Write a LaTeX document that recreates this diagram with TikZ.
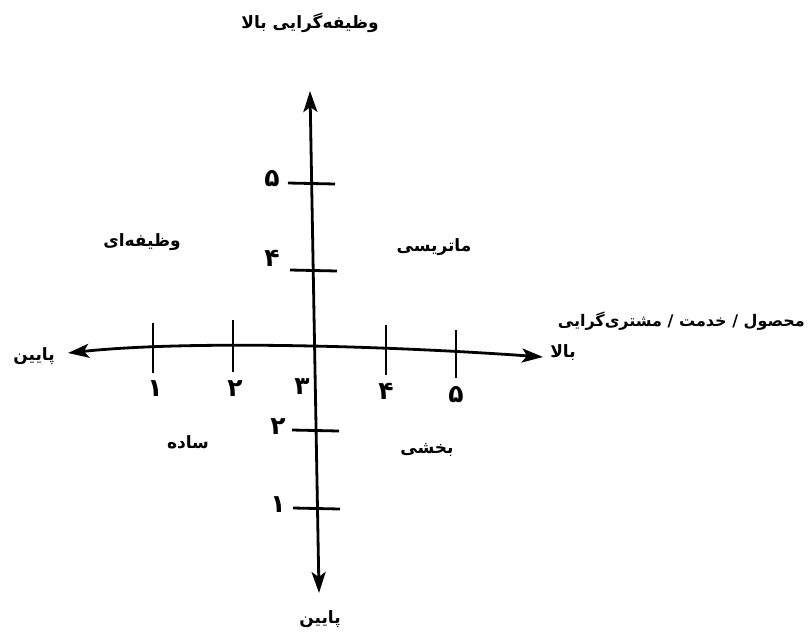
\documentclass[tikz,border=0pt]{standalone}
\usepackage{fontspec}
\usetikzlibrary{arrows.meta}
\TeXXeTstate=1
\newfontfamily\fa[Script=Arabic]{DejaVu Sans}
\tikzset{
  tip/.tip={Stealth[length=21pt,width=14pt,inset=5pt]},
  tick/.style={line width=2.8pt},
  lbl/.style={font=\fa\bfseries\fontsize{17}{20}\selectfont, inner sep=0pt},
  num/.style={font=\fa\bfseries\fontsize{25}{28}\selectfont, inner sep=0pt},
}
\begin{document}
\begin{tikzpicture}[x=1pt,y=-1pt]
\useasboundingbox[fill=white] (0,0) rectangle (810,635);
% vertical axis
\coordinate (vb) at (319,593);
\coordinate (vt) at (310,91);
\draw[line width=2.8pt, tip-tip] (vb) -- (vt);
% horizontal axis
\coordinate (hl) at (68,353);
\coordinate (hr) at (543,357);
\draw[line width=2.8pt, tip-tip]
  (hl) .. controls (190,340) and (390,346) .. (hr);
% horizontal ticks
\draw[tick] (153,323) -- (153,373);
\draw[tick] (233,320) -- (233,372);
\draw[tick] (386,325) -- (386,375);
\draw[tick] (456,330) -- (456,378);
% vertical ticks
\draw[tick] (288,183) -- (335,184);
\draw[tick] (290,270) -- (337,271);
\draw[tick] (292,430) -- (339,431);
\draw[tick] (293,508) -- (340,509);
% horizontal numbers
\node[num] (h1) at (155,389) {\beginR ۱\endR};
\node[num] (h2) at (235,389) {\beginR ۲\endR};
\node[num] (h3) at (302,387) {\beginR ۳\endR};
\node[num] (h4) at (386,391) {\beginR ۴\endR};
\node[num] (h5) at (456,395) {\beginR ۵\endR};
% vertical numbers
\node[num] (v5) at (272,179) {\beginR ۵\endR};
\node[num] (v4) at (272,258) {\beginR ۴\endR};
\node[num] (v2) at (278,427) {\beginR ۲\endR};
\node[num] (v1) at (278,505) {\beginR ۱\endR};
% axis labels
\node[lbl] (top) at (310,23) {\beginR وظیفه‌گرایی بالا\endR};
\node[lbl, font=\fa\bfseries\fontsize{16}{19}\selectfont, anchor=east] (right1) at (805,321) {\beginR محصول / خدمت / مشتری‌گرایی\endR};
\node[lbl] (right2) at (563,353) {\beginR بالا\endR};
\node[lbl] (left) at (34,356) {\beginR پایین\endR};
\node[lbl] (bottom) at (320,619) {\beginR پایین\endR};
% quadrant labels
\node[lbl] (q1) at (142,242) {\beginR وظیفه‌ای\endR};
\node[lbl] (q2) at (434,247) {\beginR ماتریسی\endR};
\node[lbl] (q3) at (188,442) {\beginR ساده\endR};
\node[lbl] (q4) at (427,450) {\beginR بخشی\endR};
\end{tikzpicture}
\end{document}
